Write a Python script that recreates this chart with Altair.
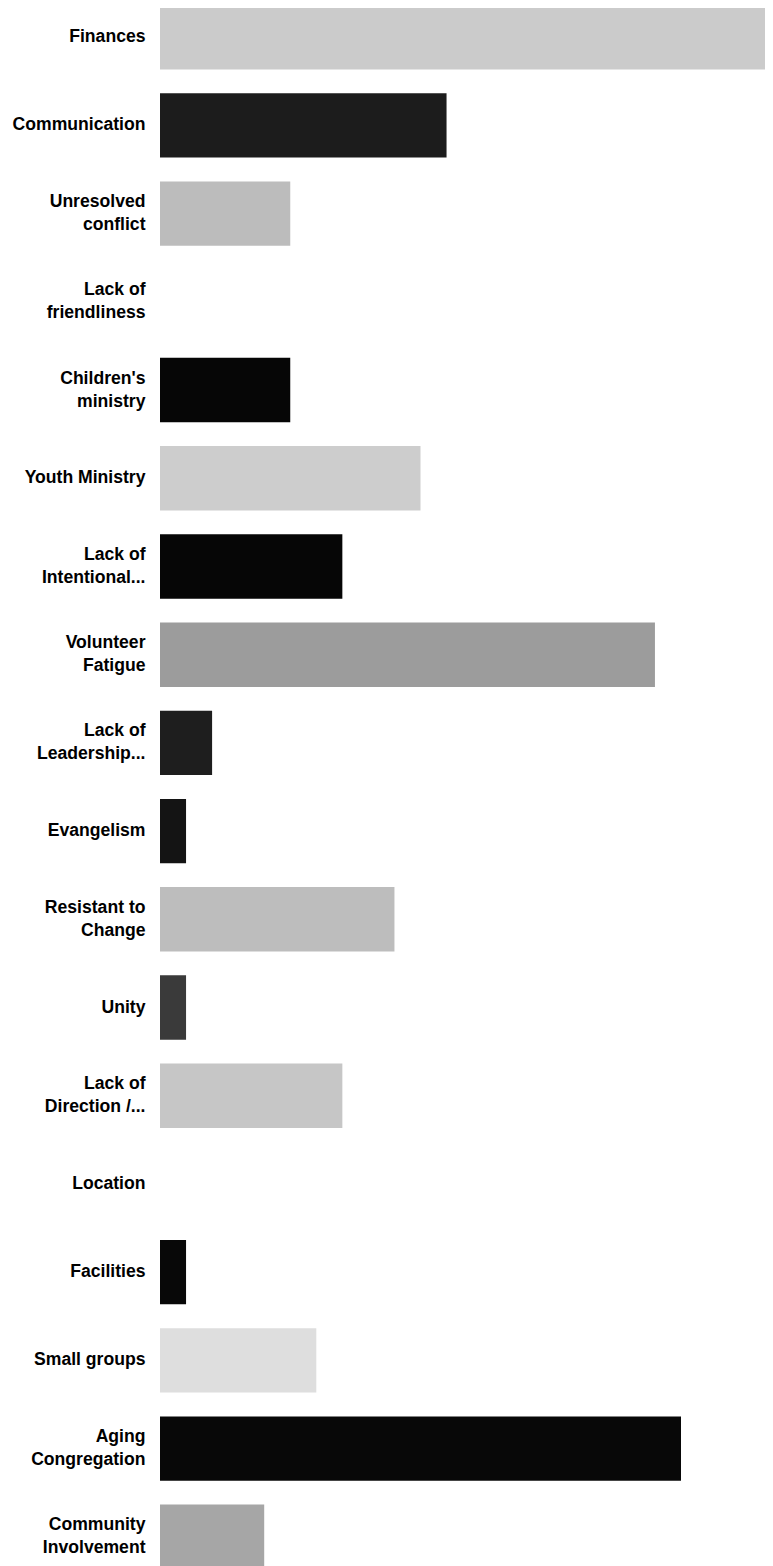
import altair as alt
import pandas as pd

# Category labels ("|" marks a line break in the axis label)
categories = [
    "Finances",
    "Communication",
    "Unresolved|conflict",
    "Lack of|friendliness",
    "Children's|ministry",
    "Youth Ministry",
    "Lack of|Intentional...",
    "Volunteer|Fatigue",
    "Lack of|Leadership...",
    "Evangelism\u00a0",
    "Resistant to|Change",
    "Unity\u00a0",
    "Lack of|Direction /...",
    "Location",
    "Facilities",
    "Small groups",
    "Aging|Congregation",
    "Community|Involvement",
]

# Response counts
counts = [24, 11, 5, 0, 5, 10, 7, 19, 2, 1, 9, 1, 7, 0, 1, 6, 20, 4]

# Bar fill tones (average grey of the dithered fills)
tones = [
    "#cbcbcb", "#1c1c1c", "#bcbcbc", "#ffffff", "#060606", "#cdcdcd",
    "#060606", "#9c9c9c", "#1e1e1e", "#141414", "#bdbdbd", "#3a3a3a",
    "#c6c6c6", "#ffffff", "#080808", "#dedede", "#080808", "#a6a6a6",
]

df = pd.DataFrame({"category": categories, "count": counts})

plot_w = 605
unit_px = 26.05
label_area = 152
line_h = 23

chart = (
    alt.Chart(df)
    .mark_bar(yOffset=-3)
    .encode(
        y=alt.Y(
            "category:N",
            sort=categories,
            scale=alt.Scale(paddingInner=0.27, paddingOuter=0),
            axis=alt.Axis(
                title=None,
                ticks=False,
                domain=False,
                grid=False,
                labelExpr="split(datum.label, '|')",
                labelFont="Liberation Sans",
                labelFontWeight="bold",
                labelFontSize=17.6,
                labelLineHeight=line_h,
                labelColor="#000000",
                labelPadding=15,
                labelOffset={
                    "condition": {
                        "test": "indexof(datum.value, '|') >= 0",
                        "value": -3 - line_h / 2,
                    },
                    "value": -3,
                },
                labelLimit=200,
            ),
        ),
        x=alt.X(
            "count:Q",
            scale=alt.Scale(domain=[0, plot_w / unit_px], nice=False, clamp=True, zero=True),
            axis=None,
        ),
        color=alt.Color(
            "category:N",
            scale=alt.Scale(domain=categories, range=tones),
            legend=None,
        ),
    )
    .properties(
        width=plot_w,
        height=1564,
        autosize=alt.AutoSizeParams(type="none"),
        padding={"left": label_area, "top": 0, "right": 0, "bottom": 0},
        background="#ffffff",
    )
    .configure_view(strokeWidth=0, stroke="transparent")
)

chart.save("out.html", embed_options={"renderer": "svg", "actions": False})
